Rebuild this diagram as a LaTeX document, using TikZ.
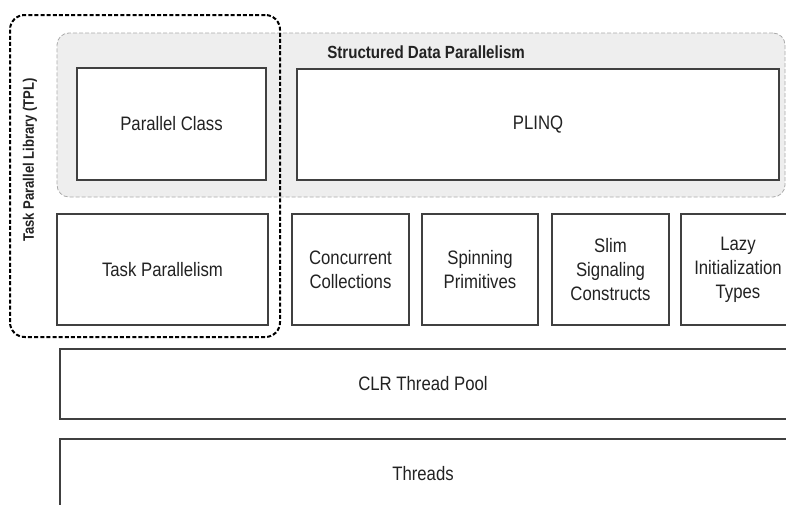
\documentclass[tikz,border=0pt]{standalone}
\usepackage{fontspec}
\setmainfont{Liberation Sans}
\newfontfamily\narrowfont[FakeStretch=0.86]{Liberation Sans}
\usetikzlibrary{fit}
\definecolor{boxline}{HTML}{404040}
\definecolor{greyfill}{HTML}{EEEEEE}
\definecolor{greyline}{HTML}{AAAAAA}
\definecolor{txt}{HTML}{222222}
\begin{document}
\begin{tikzpicture}[x=0.75pt,y=-0.75pt,
  box/.style={draw=boxline, line width=1.1pt, fill=white, inner sep=0pt},
  plain/.style={text=txt, font=\narrowfont\fontsize{14.6}{18}\selectfont, inner sep=0pt, align=center},
  groupbox/.style={draw=greyline, fill=greyfill, dash pattern=on 3pt off 1.5pt, line width=0.6pt,
     rounded corners=9pt, inner sep=0pt},
  tplbox/.style={draw=black, line width=1.5pt, dash pattern=on 3pt off 1.6pt, rounded corners=11pt, inner sep=0pt},
  grouplabel/.style={font=\narrowfont\bfseries\fontsize{13.2}{16}\selectfont, text=txt, inner sep=0pt},
  tpllabel/.style={font=\narrowfont\bfseries\fontsize{11.4}{14}\selectfont, text=txt, inner sep=0pt, rotate=90}]
\useasboundingbox (0,0) rectangle (786,504);
\clip (0,0) rectangle (786,504);
% structured data parallelism group
\node[groupbox, fit={(57,33) (785,197)}] (sdp) {};
\node[grouplabel, anchor=west] (sdplabel) at (327,52) {Structured Data Parallelism};
\node[box, fit={(77,68) (266,180)}] (pc) {};
\node[plain] (pclab) at (pc.center) {Parallel Class};
\node[box, fit={(297,69) (779,180)}] (plinq) {};
\node[plain] (plinqlab) at (plinq.center) {PLINQ};
% second row
\node[box, fit={(57,214) (268,325)}] (tp) {};
\node[plain] (tplab) at (tp.center) {Task Parallelism};
\node[box, fit={(292,214) (409,325)}] (cc) {};
\node[plain] (cclab) at (cc.center) {Concurrent\\Collections};
\node[box, fit={(422,214) (538,325)}] (sp) {};
\node[plain] (splab) at (sp.center) {Spinning\\Primitives};
\node[box, fit={(552,214) (669,325)}] (ss) {};
\node[plain] (sslab) at (ss.center) {Slim\\Signaling\\Constructs};
\node[box, fit={(681,214) (795,325)}] (lazy) {};
\node[plain] (lazylab) at (lazy.center) {Lazy\\Initialization\\Types};
% lower layers (extend past the right and bottom edges)
\node[box, fit={(60,349) (800,419)}] (clr) {};
\node[plain] (clrlab) at (423,384) {CLR Thread Pool};
\node[box, fit={(60,439) (800,525)}] (thr) {};
\node[plain] (thrlab) at (423,474) {Threads};
% TPL dashed group
\node[tplbox, fit={(10,15) (280,337)}] (tpl) {};
\node[tpllabel] (tpllab) at (30,160) {Task Parallel Library (TPL)};
\end{tikzpicture}
\end{document}
